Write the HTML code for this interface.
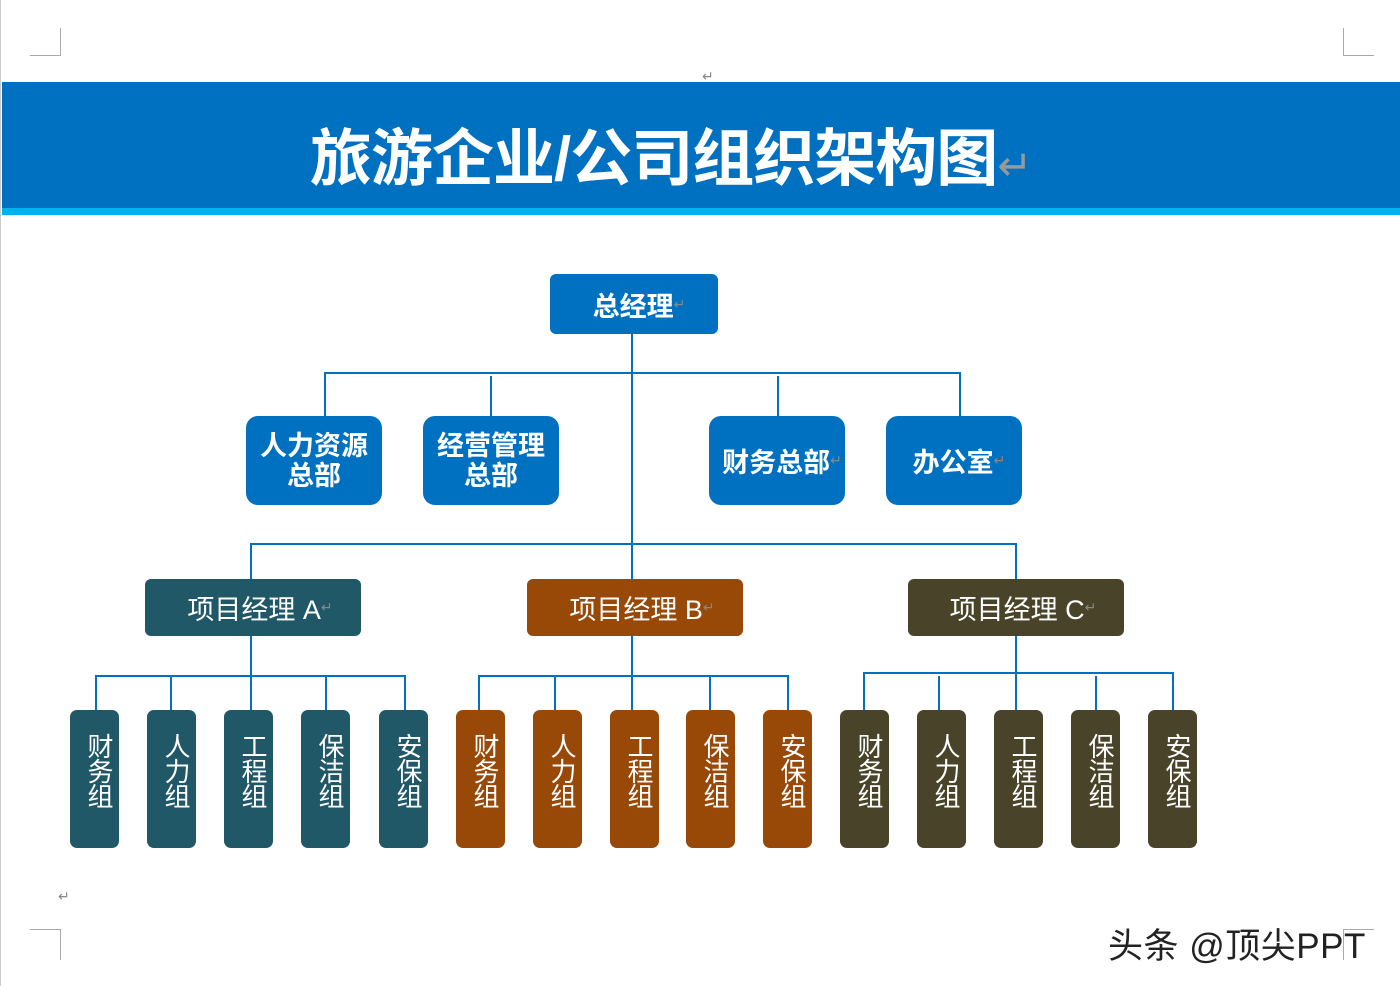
<!DOCTYPE html>
<html><head><meta charset="utf-8"><style>
body{margin:0;width:1400px;height:986px;background:#fff;position:relative;overflow:hidden;font-family:"Liberation Sans","Noto Sans CJK SC",sans-serif}
.a{position:absolute}
.band{left:2px;top:82px;width:1398px;height:126px;background:#0070C0}
.stripe{left:2px;top:208px;width:1398px;height:7px;background:#00B0F0}
.title{left:310px;top:120px;color:#fff;font-weight:bold;font-size:62px;line-height:80px;white-space:nowrap;letter-spacing:-1px}
.ln{position:absolute;background:#0070C0}
.bx{position:absolute;color:#fff;font-weight:bold;display:flex;align-items:center;justify-content:center;text-align:center;background:#0070C0;border-radius:12px}
.mg{position:absolute;color:#fff;font-size:27px;display:flex;align-items:center;justify-content:center;border-radius:6px;padding-left:14px;box-sizing:border-box}
.sm{position:absolute;top:710px;width:49px;height:138px;border-radius:7px;color:#fff;font-size:26px;line-height:25px;text-align:center;box-sizing:border-box;padding-top:25px;padding-left:12px}
.A{background:#215868}.B{background:#984807}.C{background:#494429}
.cm{position:absolute;border-color:#aaa;border-style:solid;border-width:0}
.rt{color:#888;font-size:14px;font-weight:normal}
</style></head><body>
<div class="a" style="left:0;top:0;width:1px;height:986px;background:#ccc"></div>
<div class="cm" style="left:30px;top:28px;width:30px;height:27px;border-right-width:1px;border-bottom-width:1px"></div>
<div class="cm" style="left:1343px;top:28px;width:30px;height:27px;border-left-width:1px;border-bottom-width:1px"></div>
<div class="cm" style="left:30px;top:929px;width:30px;height:30px;border-right-width:1px;border-top-width:1px"></div>
<div class="cm" style="left:1343px;top:929px;width:30px;height:30px;border-left-width:1px;border-top-width:1px"></div>
<div class="a rt" style="left:702px;top:68px">↵</div>
<div class="a rt" style="left:58px;top:888px">↵</div>
<div class="a band"></div><div class="a stripe"></div>
<div class="a title">旅游企业/公司组织架构图<span style="color:#999;font-weight:normal;font-size:42px">↵</span></div>

<div class="ln" style="left:631px;top:334px;width:2px;height:245px"></div>
<div class="ln" style="left:324px;top:372px;width:637px;height:2px"></div>
<div class="ln" style="left:324px;top:372px;width:2px;height:44px"></div>
<div class="ln" style="left:490px;top:376px;width:2px;height:40px"></div>
<div class="ln" style="left:777px;top:376px;width:2px;height:40px"></div>
<div class="ln" style="left:959px;top:372px;width:2px;height:44px"></div>
<div class="ln" style="left:250px;top:543px;width:767px;height:2px"></div>
<div class="ln" style="left:250px;top:543px;width:2px;height:36px"></div>
<div class="ln" style="left:1015px;top:543px;width:2px;height:36px"></div>
<div class="ln" style="left:250px;top:636px;width:2px;height:74px"></div>
<div class="ln" style="left:95px;top:675px;width:311px;height:2px"></div>
<div class="ln" style="left:631px;top:636px;width:2px;height:74px"></div>
<div class="ln" style="left:478px;top:675px;width:311px;height:2px"></div>
<div class="ln" style="left:1015px;top:636px;width:2px;height:74px"></div>
<div class="ln" style="left:863px;top:672px;width:311px;height:2px"></div>

<div class="ln" style="left:95px;top:675px;width:2px;height:35px"></div>
<div class="ln" style="left:170px;top:675px;width:2px;height:35px"></div>
<div class="ln" style="left:325px;top:675px;width:2px;height:35px"></div>
<div class="ln" style="left:404px;top:675px;width:2px;height:35px"></div>
<div class="ln" style="left:478px;top:675px;width:2px;height:35px"></div>
<div class="ln" style="left:554px;top:675px;width:2px;height:35px"></div>
<div class="ln" style="left:709px;top:675px;width:2px;height:35px"></div>
<div class="ln" style="left:787px;top:675px;width:2px;height:35px"></div>
<div class="ln" style="left:863px;top:672px;width:2px;height:38px"></div>
<div class="ln" style="left:938px;top:676px;width:2px;height:34px"></div>
<div class="ln" style="left:1095px;top:676px;width:2px;height:34px"></div>
<div class="ln" style="left:1172px;top:672px;width:2px;height:38px"></div>

<div class="bx" style="left:550px;top:274px;width:168px;height:60px;border-radius:6px;font-size:27px;padding-left:10px;box-sizing:border-box">总经理<span class="rt">↵</span></div>
<div class="bx" style="left:246px;top:416px;width:136px;height:89px;font-size:27px;line-height:30px">人力资源<br>总部</div>
<div class="bx" style="left:423px;top:416px;width:136px;height:89px;font-size:27px;line-height:30px">经营管理<br>总部</div>
<div class="bx" style="left:709px;top:416px;width:136px;height:89px;font-size:27px;padding-left:10px;box-sizing:border-box">财务总部<span class="rt">↵</span></div>
<div class="bx" style="left:886px;top:416px;width:136px;height:89px;font-size:27px;padding-left:10px;box-sizing:border-box">办公室<span class="rt">↵</span></div>

<div class="mg A" style="left:145px;top:579px;width:216px;height:57px">项目经理 A<span class="rt">↵</span></div>
<div class="mg B" style="left:527px;top:579px;width:216px;height:57px">项目经理 B<span class="rt">↵</span></div>
<div class="mg C" style="left:908px;top:579px;width:216px;height:57px">项目经理 C<span class="rt">↵</span></div>

<div class="sm A" style="left:70px">财<br>务<br>组</div>
<div class="sm A" style="left:147px">人<br>力<br>组</div>
<div class="sm A" style="left:224px">工<br>程<br>组</div>
<div class="sm A" style="left:301px">保<br>洁<br>组</div>
<div class="sm A" style="left:379px">安<br>保<br>组</div>
<div class="sm B" style="left:456px">财<br>务<br>组</div>
<div class="sm B" style="left:533px">人<br>力<br>组</div>
<div class="sm B" style="left:610px">工<br>程<br>组</div>
<div class="sm B" style="left:686px">保<br>洁<br>组</div>
<div class="sm B" style="left:763px">安<br>保<br>组</div>
<div class="sm C" style="left:840px">财<br>务<br>组</div>
<div class="sm C" style="left:917px">人<br>力<br>组</div>
<div class="sm C" style="left:994px">工<br>程<br>组</div>
<div class="sm C" style="left:1071px">保<br>洁<br>组</div>
<div class="sm C" style="left:1148px">安<br>保<br>组</div>

<div class="a" style="left:1108px;top:918px;font-size:35px;color:#222;white-space:nowrap;letter-spacing:0.5px">头条 @顶尖PPT</div>
</body></html>
